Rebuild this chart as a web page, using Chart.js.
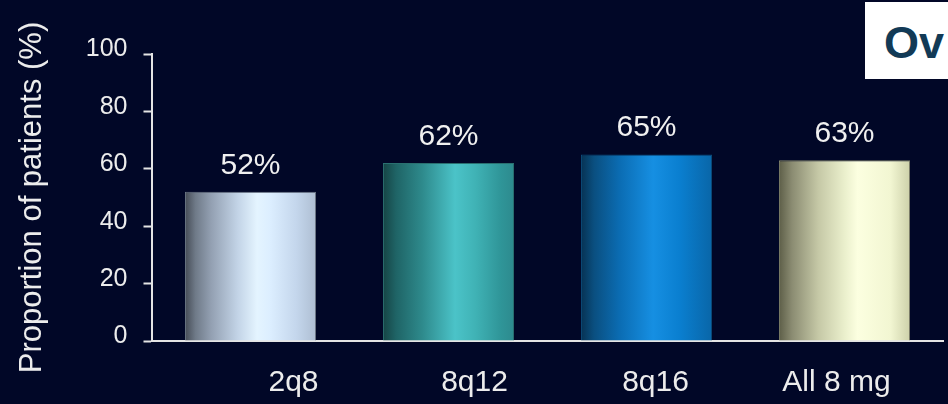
<!DOCTYPE html>
<html>
<head>
<meta charset="utf-8">
<title>Proportion of patients</title>
<script src="https://cdn.jsdelivr.net/npm/chart.js@4.4.1/dist/chart.umd.min.js"></script>
<style>
  html, body { margin: 0; padding: 0; background: #010727; overflow: hidden; }
  #wrap { position: relative; width: 948px; height: 404px; }
  #chart { position: absolute; left: 0; top: 0; }
  #tag {
    position: absolute; left: 865px; top: 2px; width: 83px; height: 77px;
    background: #ffffff; overflow: hidden; white-space: nowrap;
    font-family: 'Liberation Sans', Arial, sans-serif; font-weight: bold;
    font-size: 45px; line-height: 77px; color: #123a56;
  }
  #tag span { position: relative; left: 19px; top: 2px; }
</style>
</head>
<body>
<div id="wrap">
  <canvas id="chart" width="948" height="404"></canvas>
  <div id="tag"><span>Ov</span></div>
</div>
<script>
// Dosing groups and response rates (%)
const categories = ['2q8', '8q12', '8q16', 'All 8 mg'];
const values = [52, 62, 65, 63];
const axisTitle = 'Proportion of patients (%)';

// Horizontal shading for each bar, left edge to right edge
const barShades = [
  [[0, '#454b55'], [0.08, '#6f7a88'], [0.2, '#93a0b2'], [0.4, '#c2d3e6'], [0.55, '#e4f4ff'], [0.65, '#dceeff'], [0.85, '#c4d6ec'], [1, '#aebed2']],
  [[0, '#164445'], [0.1, '#1f6466'], [0.3, '#2e8a8c'], [0.55, '#4bc3c8'], [0.7, '#40b3b6'], [0.9, '#2f9598'], [1, '#2d8a8e']],
  [[0, '#073253'], [0.1, '#0a4f80'], [0.3, '#0b6db4'], [0.55, '#168fe2'], [0.75, '#0a7fd0'], [1, '#0966a8']],
  [[0, '#5d5e48'], [0.1, '#8b8c72'], [0.3, '#c5c8a6'], [0.5, '#eaefcc'], [0.6, '#fcffe0'], [0.85, '#f2f6d2'], [1, '#cdd1aa']]
];
const barEdges = ['#6b7684', '#2a7070', '#0b4a78', '#7c7e68'];

const FONT = "'Liberation Sans', Arial, sans-serif";
const TEXT = '#ececec';
const AXIS = '#e4e4e4';
const BAR_FRACTION = 0.662;

// Range of the label axis; group names sit at 0..3 inside it
const LABEL_MIN = -0.7846;
const LABEL_MAX = 3.591;

function barFill(context) {
  const chart = context.chart;
  const i = context.dataIndex;
  const stops = barShades[i];
  const xs = chart.scales && chart.scales.x;
  if (!chart.chartArea || !xs || i === undefined) return stops[Math.floor(stops.length / 2)][1];
  const cx = xs.getPixelForValue(i);
  const step = xs.getPixelForValue(1) - xs.getPixelForValue(0);
  const half = step * BAR_FRACTION / 2;
  const g = chart.ctx.createLinearGradient(cx - half, 0, cx + half, 0);
  stops.forEach(([p, c]) => g.addColorStop(p, c));
  return g;
}

// Percentage printed above each bar
const valueLabels = {
  id: 'valueLabels',
  afterDatasetsDraw(chart) {
    const ctx = chart.ctx;
    const meta = chart.getDatasetMeta(0);
    ctx.save();
    ctx.font = '30px ' + FONT;
    ctx.fillStyle = '#f0f0f0';
    ctx.textAlign = 'center';
    ctx.textBaseline = 'alphabetic';
    meta.data.forEach((bar, i) => {
      ctx.fillText(values[i] + '%', bar.x, bar.y - 18);
    });
    ctx.restore();
  }
};

new Chart(document.getElementById('chart'), {
  type: 'bar',
  data: {
    labels: categories,
    datasets: [{
      data: values,
      backgroundColor: barFill,
      borderColor: barEdges,
      borderWidth: 1,
      borderSkipped: 'bottom',
      categoryPercentage: 1,
      barPercentage: BAR_FRACTION,
      xAxisID: 'x',
      yAxisID: 'y'
    }]
  },
  options: {
    responsive: false,
    animation: false,
    devicePixelRatio: 1,
    layout: { padding: { top: 54, right: 4.5, left: 0, bottom: 0 } },
    plugins: { legend: { display: false }, tooltip: { enabled: false } },
    scales: {
      x: {
        type: 'category',
        display: false,
        offset: true
      },
      groups: {
        type: 'linear',
        axis: 'x',
        position: 'bottom',
        offset: false,
        bounds: 'data',
        min: LABEL_MIN,
        max: LABEL_MAX,
        afterBuildTicks(scale) {
          scale.ticks = [{ value: LABEL_MIN }]
            .concat(categories.map((c, i) => ({ value: i })))
            .concat([{ value: LABEL_MAX }]);
        },
        afterDataLimits(scale) {
          scale.min = LABEL_MIN;
          scale.max = LABEL_MAX;
        },
        afterFit(scale) {
          scale.height = 63;
          scale.paddingLeft = 0;
          scale.paddingRight = 0;
        },
        grid: { display: false, offset: false },
        border: { display: true, color: AXIS, width: 2 },
        ticks: {
          autoSkip: false,
          maxRotation: 0,
          padding: 15.5,
          color: TEXT,
          font: { family: FONT, size: 30 },
          callback: (v) => Number.isInteger(v) ? categories[v] : ''
        }
      },
      y: {
        min: 0,
        max: 100,
        afterFit(scale) { scale.width = 151.5; },
        border: { display: true, color: AXIS, width: 2 },
        grid: {
          drawOnChartArea: false,
          drawTicks: true,
          tickLength: 8,
          tickWidth: 2,
          tickColor: AXIS
        },
        ticks: {
          stepSize: 20,
          padding: 16,
          labelOffset: -4.5,
          color: TEXT,
          font: { family: FONT, size: 25 }
        },
        title: {
          display: true,
          text: axisTitle,
          color: TEXT,
          font: { family: FONT, size: 31, lineHeight: 1 },
          padding: { top: 16.8, bottom: 0 }
        }
      }
    }
  },
  plugins: [valueLabels]
});
</script>
</body>
</html>
